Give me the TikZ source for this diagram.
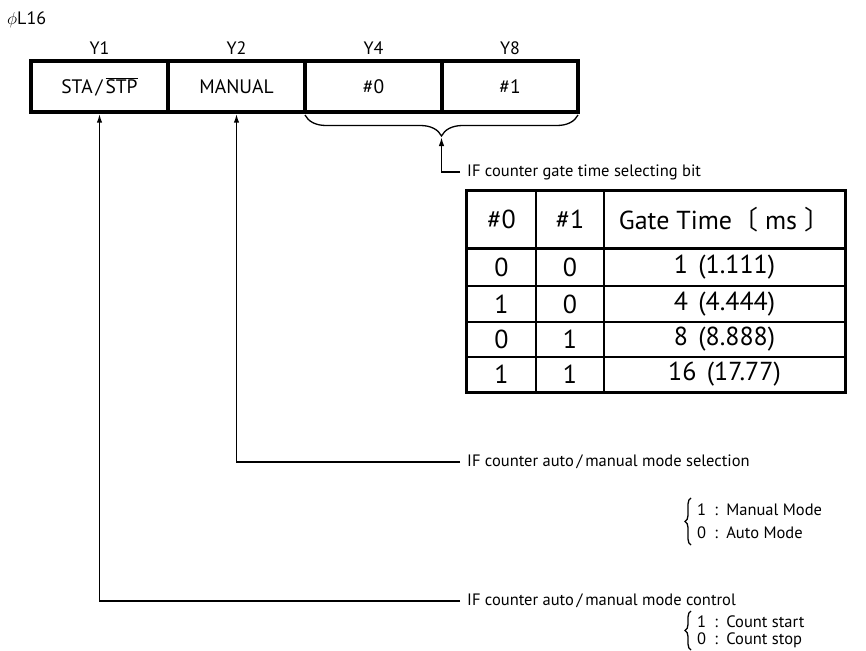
\documentclass[tikz,border=0pt]{standalone}
\usepackage{fontspec}
\setmainfont{PT Sans}
\newfontfamily\cjk{Noto Sans CJK JP}
\usetikzlibrary{arrows.meta,decorations.pathreplacing}
\begin{document}
\begin{tikzpicture}[x=1pt,y=-1pt,
 reg/.style={draw,line width=3.4pt,minimum width=137pt,minimum height=51pt,inner sep=0pt,font=\fontsize{19.5}{21}\selectfont},
 lbl/.style={font=\fontsize{18}{20}\selectfont,inner sep=0pt},
 cell/.style={draw,line width=1.6pt,inner sep=0pt,font=\fontsize{26}{28}\selectfont},
 conn/.style={line width=1.6pt},
 arr/.style={conn,-{Latex[length=9pt,width=5.5pt]}},
 note/.style={font=\fontsize{16.5}{18}\selectfont,anchor=west,inner sep=0pt},
 bracestyle/.style={line width=1.3pt,decorate},
]
\useasboundingbox (0,0) rectangle (866,650);
\fill[white] (0,0) rectangle (866,650);

% title
\node[lbl,anchor=west] (title) at (7,20) {$\phi$L16};

% register
\node[reg] (c1) at (99.5,86.5) {STA\kern3pt/\kern3pt$\overline{\mbox{STP}}$};
\node[reg] (c2) at (236.5,86.5) {MANUAL};
\node[reg] (c3) at (373.5,86.5) {\#0};
\node[reg,minimum width=136pt] (c4) at (510,86.5) {\#1};
\node[lbl] (y1) at (99.5,48) {Y1};
\node[lbl] (y2) at (236.5,48) {Y2};
\node[lbl] (y4) at (373.5,48) {Y4};
\node[lbl] (y8) at (510,48) {Y8};

% brace under #0 #1
\coordinate (bl) at (305,115);
\coordinate (br) at (578,115);
\draw[bracestyle,decoration={brace,amplitude=21pt,aspect=0.5}] (br) -- (bl);
\coordinate (bt) at (441.5,137);

% gate time label
\node[note] (gt) at (467,172) {IF counter gate time selecting bit};
\draw[arr] ([xshift=-7pt]gt.west) -| (bt);

% table
\node[cell,minimum width=69pt,minimum height=57pt] (h1) at (501.5,219.5) {\#0};
\node[cell,minimum width=68pt,minimum height=57pt] (h2) at (570,219.5) {\#1};
\node[cell,minimum width=241pt,minimum height=57pt] (h3) at (724.5,219.5) {Gate Time{\cjk 〔} ms {\cjk 〕}};

\node[cell,minimum width=69pt,minimum height=38pt] (a1) at (501.5,267) {0};
\node[cell,minimum width=68pt,minimum height=38pt] (b1) at (570,267) {0};
\node[cell,minimum width=241pt,minimum height=38pt] (t1) at (724.5,267) {1\hspace{0.4em}(1.111)};

\node[cell,minimum width=69pt,minimum height=36pt] (a2) at (501.5,304) {1};
\node[cell,minimum width=68pt,minimum height=36pt] (b2) at (570,304) {0};
\node[cell,minimum width=241pt,minimum height=36pt] (t2) at (724.5,304) {4\hspace{0.4em}(4.444)};

\node[cell,minimum width=69pt,minimum height=35pt] (a3) at (501.5,339.5) {0};
\node[cell,minimum width=68pt,minimum height=35pt] (b3) at (570,339.5) {1};
\node[cell,minimum width=241pt,minimum height=35pt] (t3) at (724.5,339.5) {8\hspace{0.4em}(8.888)};

\node[cell,minimum width=69pt,minimum height=35pt] (a4) at (501.5,374.5) {1};
\node[cell,minimum width=68pt,minimum height=35pt] (b4) at (570,374.5) {1};
\node[cell,minimum width=241pt,minimum height=35pt] (t4) at (724.5,374.5) {16\hspace{0.4em}(17.77)};

\draw[line width=3.2pt] (h1.north west) rectangle (t4.south east);
\draw[line width=3.2pt] (h1.south west) -- (h3.south east);

% mode selection
\node[note] (sel) at (467,462) {IF counter auto\,/\,manual mode selection};
\draw[arr] ([xshift=-7pt]sel.west) -| (c2.south);
\node[note] (m1) at (697,510) {1\enspace:\enspace Manual Mode};
\node[note] (m0) at (697,533) {0\enspace:\enspace Auto Mode};
\draw[bracestyle,decoration={brace,amplitude=6pt,aspect=0.5}] (691,545) -- (691,498);

% mode control
\node[note] (ctl) at (467,601) {IF counter auto\,/\,manual mode control};
\draw[arr] ([xshift=-7pt]ctl.west) -| (c1.south);
\node[note] (s1) at (697,622) {1\enspace:\enspace Count start};
\node[note] (s0) at (697,640) {0\enspace:\enspace Count stop};
\draw[bracestyle,decoration={brace,amplitude=6pt,aspect=0.5}] (691,650) -- (691,611);
\end{tikzpicture}
\end{document}
